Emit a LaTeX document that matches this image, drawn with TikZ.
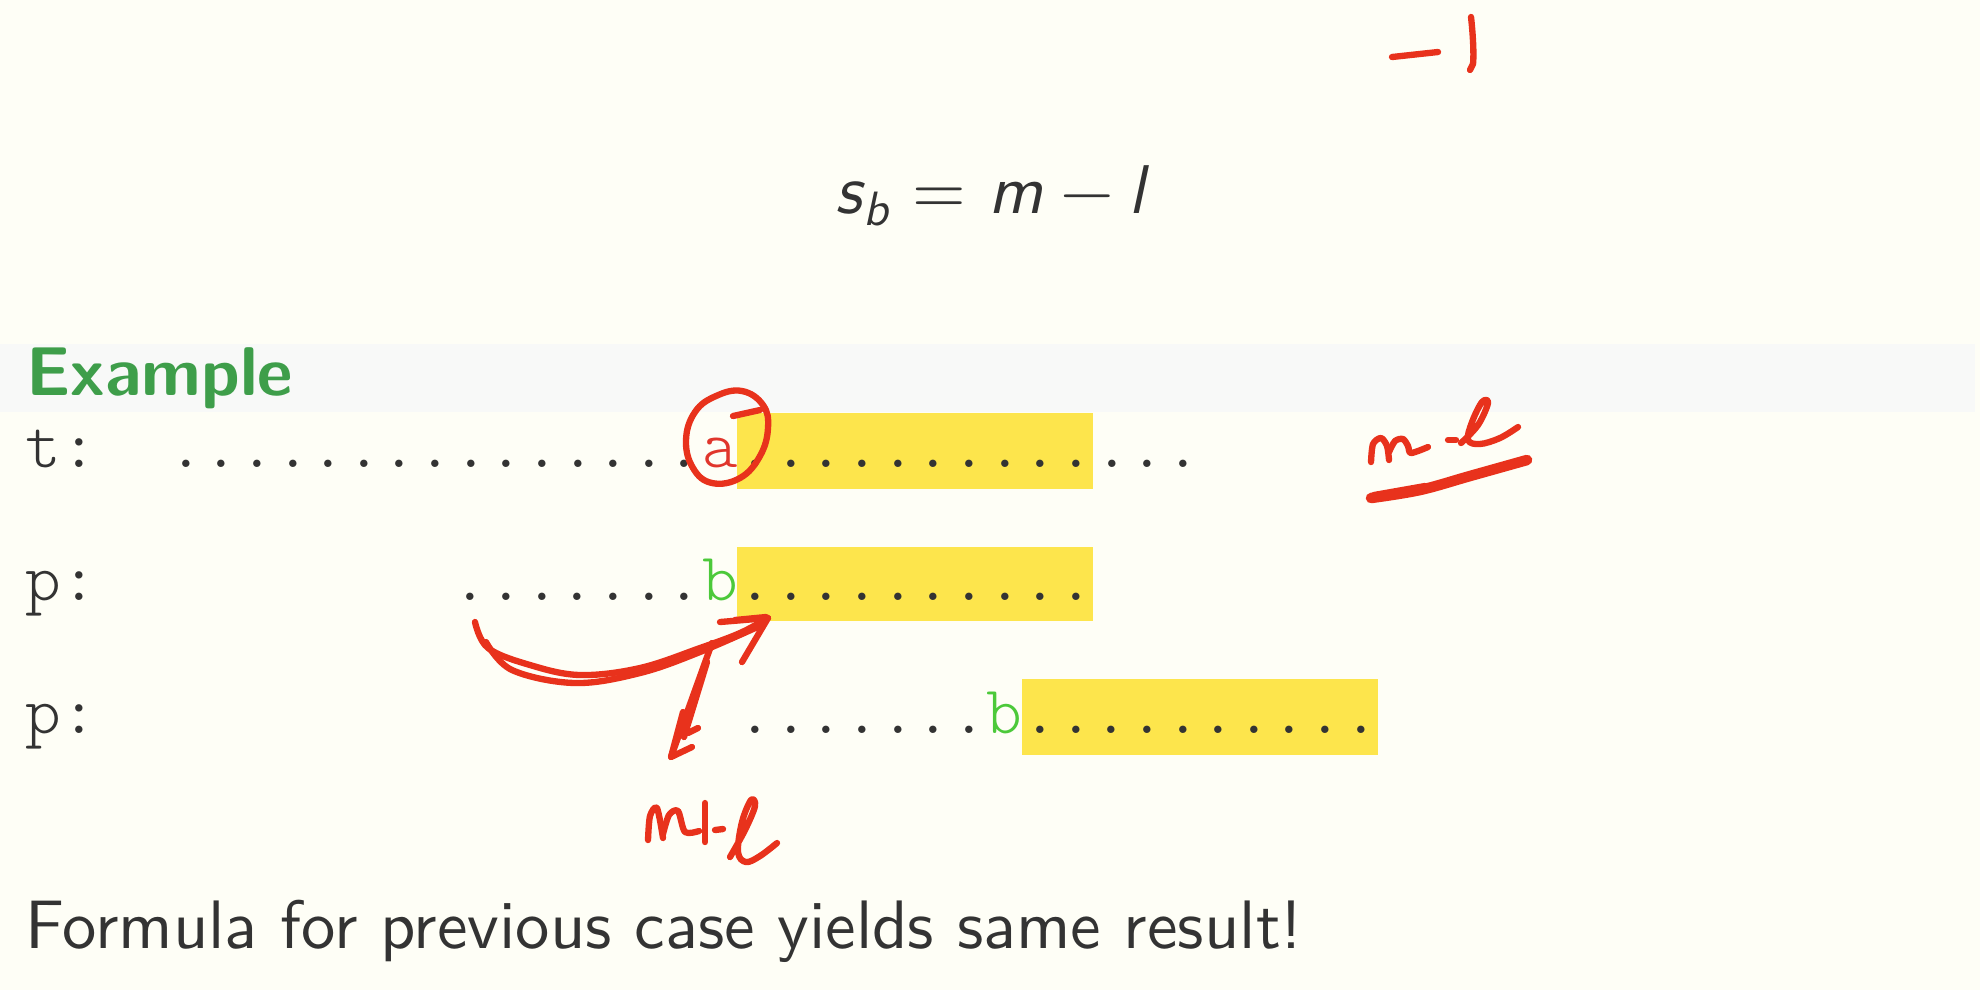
\documentclass[tikz,border=0pt]{standalone}
\usepackage{fontspec}
\newfontfamily\monofont{lmmonolt10-regular.otf}
\newfontfamily\sansten{lmsans10-regular.otf}[BoldFont=lmsans10-bold.otf, ItalicFont=lmsans10-oblique.otf, BoldItalicFont=lmsans10-boldoblique.otf]
\definecolor{bgc}{HTML}{FEFEF6}
\definecolor{bandc}{HTML}{F8F9F8}
\definecolor{hlc}{HTML}{FDE54C}
\definecolor{txtc}{HTML}{333333}
\definecolor{exgreen}{HTML}{3E9E4A}
\definecolor{bgreen}{HTML}{4CC93A}
\definecolor{ared}{HTML}{E0362C}
\definecolor{inkc}{HTML}{E8321C}
\tikzset{
  mono/.style={anchor=base west, inner sep=0pt, text=txtc, font=\monofont\fontsize{19.3}{23}\selectfont},
  monoa/.style={mono, text=ared},
  monob/.style={mono, text=bgreen},
  hlbox/.style={fill=hlc, draw=none},
  ink/.style={draw=inkc, line width=1.8pt, line cap=round, line join=round},
  inkthick/.style={ink, line width=3pt},
  sftext/.style={anchor=base west, inner sep=0pt, text=txtc, font=\sansten\fontsize{19.5}{23}\selectfont},
  mathit/.style={anchor=base west, inner sep=0pt, text=txtc, font=\sansten\itshape\fontsize{19.6}{24}\selectfont},
  mathup/.style={anchor=base west, inner sep=0pt, text=txtc, font=\sansten\fontsize{19.6}{24}\selectfont},
  mathsub/.style={anchor=base west, inner sep=0pt, text=txtc, font=\sansten\itshape\fontsize{13.7}{16}\selectfont},
}
\begin{document}
\begin{tikzpicture}[x=0.01cm,y=-0.01cm]
\useasboundingbox (0,0) rectangle (1980,990);
\fill[bgc] (0,0) rectangle (1980,990);
% block title band
\fill[bandc] (0,344) rectangle (1975,412);

% formula
\node[mathit] (s) at (835,213) {s};
\node[mathsub] (sb) at (863,225) {b};
\node[mathup] (eq) at (912,213) {=};
\node[mathit] (m) at (988,213) {m};
\node[mathup] (minus) at (1060,213) {−};
\node[mathit] (l) at (1128,213) {l};

% Example title
\node[anchor=base west, inner sep=0pt, text=exgreen, font=\sansten\bfseries\fontsize{19.6}{23}\selectfont] (ex) at (26,395) {Example};

% highlight boxes
\fill[hlbox] (737,413) rectangle (1093,489);
\fill[hlbox] (737,547) rectangle (1093,621);
\fill[hlbox] (1021.8,679) rectangle (1377.8,755);

% t row
\node[mono] (tl) at (25,467) {t:};
\node[mono] (td1) at (167.4,467) {...............};
\node[monoa] (ta) at (701.4,467) {a};
\node[mono] (td2) at (737,467) {.............};

% p row 1
\node[mono] (p1l) at (25,600) {p:};
\node[mono] (p1d1) at (452.2,600) {.......};
\node[monob] (p1b) at (701.4,600) {b};
\node[mono] (p1d2) at (737,600) {..........};

% p row 2
\node[mono] (p2l) at (25,733) {p:};
\node[mono] (p2d1) at (737,733) {.......};
\node[monob] (p2b) at (986.2,733) {b};
\node[mono] (p2d2) at (1021.8,733) {..........};

% bottom text
\node[sftext] (concl) at (25,948) {Formula for previous case yields same result!};

% ---- handwritten ink ----
% "-1" top right
\draw[ink] (1392,57) -- (1438,52);
\draw[ink] (1471,17) .. controls (1473,35) and (1474,55) .. (1473,64) -- (1470,70);

% circle around a
\draw[ink] plot[smooth cycle, tension=0.7] coordinates {(742,391) (763,405) (768,428) (760,456) (740,478) (712,483) (693,468) (686,440) (695,412) (716,396)};
\draw[ink] (760,410) -- (733,416);

% m-l near t row
\draw[ink] plot[smooth, tension=0.5] coordinates {(1371,462) (1373,444) (1381,438) (1387,446) (1389,460)};
\draw[ink] plot[smooth, tension=0.5] coordinates {(1389,452) (1395,441) (1403,439) (1408,446) (1411,453) (1428,447)};
\draw[ink] (1448,440) -- (1456,440);
\draw[ink] plot[smooth, tension=0.6] coordinates {(1461,443) (1478,425) (1488,403) (1482,402) (1472,422) (1468,440) (1480,444) (1500,438) (1518,427)};
\draw[inkthick] plot[smooth, tension=0.6] coordinates {(1371,498) (1420,490) (1470,476) (1527,460)};
\draw[ink] (1374,495) -- (1425,486);

% curved arrow (double stroke)
\coordinate (arrS) at (475,622);
\coordinate (arrE) at (768,618);
\draw[ink] plot[smooth, tension=0.6] coordinates {(arrS) (488,648) (530,665) (580,675) (640,668) (700,648) (740,633) (arrE)};
\draw[ink] plot[smooth, tension=0.6] coordinates {(486,642) (512,670) (575,683) (640,673) (700,652) (764,624)};
\draw[ink] (720,622) -- (arrE) -- (742,662);
\draw[ink] (735,620) -- (766,617);

% second arrow pointing down-left
\coordinate (dnS) at (712,643);
\coordinate (dnE) at (671,757);
\draw[ink] (dnS) -- (dnE);
\draw[ink] (707,662) -- (684,737);
\draw[ink] (683,712) -- (dnE) -- (692,747);
\draw[ink] (688,733) -- (698,728);

% m l-l label below
\draw[ink] plot[smooth, tension=0.5] coordinates {(648,840) (650,816) (657,808) (663,838)};
\draw[ink] plot[smooth, tension=0.5] coordinates {(663,834) (669,815) (678,811) (685,832) (699,831)};
\draw[ink] (705,803) -- (705,842);
\draw[ink] (715,830) -- (723,829);
\draw[ink] plot[smooth, tension=0.6] coordinates {(730,857) (745,830) (755,806) (751,800) (742,822) (738,852) (746,862) (760,856) (777,843)};
\end{tikzpicture}
\end{document}
